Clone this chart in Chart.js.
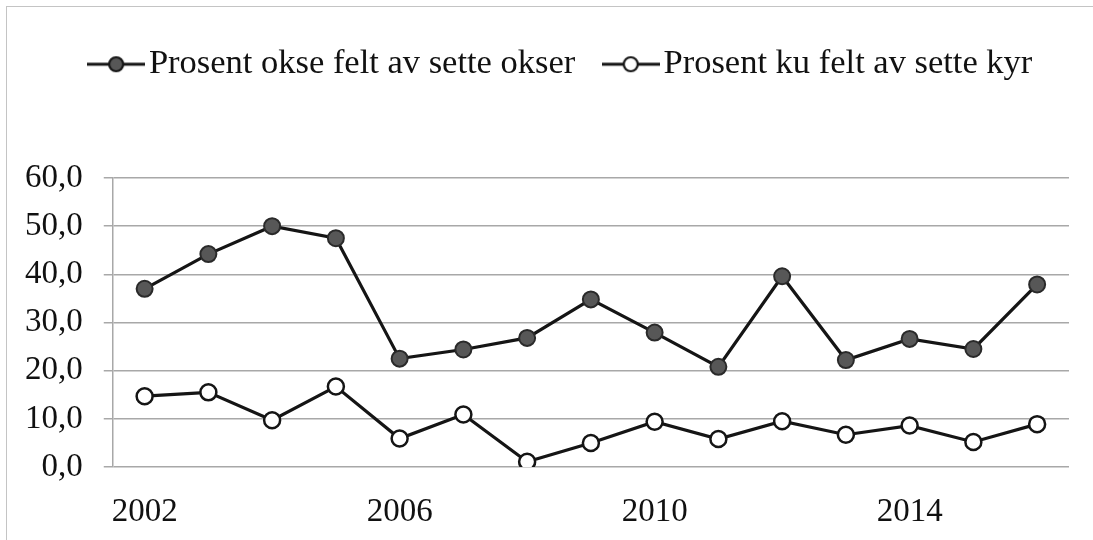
<!DOCTYPE html>
<html>
<head>
<meta charset="utf-8">
<script src="https://cdn.jsdelivr.net/npm/chart.js@4.4.1/dist/chart.umd.min.js"></script>
<style>
  html, body { margin: 0; padding: 0; background: #fff; }
  #wrap { position: relative; width: 1093px; height: 540px; }
  #frame { position: absolute; left: 6px; top: 6px; right: -2px; bottom: -2px;
           border-left: 1px solid #c4c4c4; border-top: 1px solid #c4c4c4; pointer-events: none; }
  canvas { display: block; }
</style>
</head>
<body>
<div id="wrap">
  <canvas id="chart" width="1093" height="540"></canvas>
  <div id="frame"></div>
</div>
<script>
const years = ["2002","2003","2004","2005","2006","2007","2008","2009","2010","2011","2012","2013","2014","2015","2016"];
const okse = [37.0, 44.2, 50.0, 47.5, 22.5, 24.4, 26.8, 34.8, 27.9, 20.8, 39.6, 22.2, 26.6, 24.5, 37.9];
const ku = [14.7, 15.5, 9.7, 16.7, 5.9, 10.9, 1.1, 5.0, 9.4, 5.8, 9.5, 6.7, 8.6, 5.2, 8.9];
const labelOkse = "Prosent okse felt av sette okser";
const labelKu = "Prosent ku felt av sette kyr";

const FONT = "'Liberation Serif', 'Times New Roman', serif";

// legend icon: line with the marker in the middle
function legendIcon(fill) {
  const c = document.createElement("canvas");
  c.width = 58; c.height = 20;
  const g = c.getContext("2d");
  g.strokeStyle = "#151515";
  g.lineWidth = 3;
  g.beginPath(); g.moveTo(0, 10); g.lineTo(58, 10); g.stroke();
  g.beginPath(); g.arc(29, 10, 7, 0, Math.PI * 2);
  g.fillStyle = fill; g.fill();
  g.lineWidth = 2.2; g.stroke();
  return c;
}

// legend: taller box, nudged right like the original
const legendSpace = {
  id: "legendSpace",
  beforeInit(chart) {
    const fit = chart.legend.fit;
    chart.legend.fit = function () {
      fit.call(this);
      this.height = 171;
    };
  },
  afterLayout(chart) {
    chart.legend.left += 30;
    chart.legend.right += 30;
  },
};

new Chart(document.getElementById("chart"), {
  type: "line",
  data: {
    labels: years,
    datasets: [
      {
        label: labelOkse,
        data: okse,
        borderColor: "#151515",
        borderWidth: 3.2,
        pointRadius: 8,
        pointBorderWidth: 2,
        pointBackgroundColor: "#575757",
        pointBorderColor: "#2a2a2a",
        tension: 0,
        legendIcon: legendIcon("#575757"),
      },
      {
        label: labelKu,
        data: ku,
        borderColor: "#151515",
        borderWidth: 3.2,
        pointRadius: 8,
        pointBorderWidth: 2.5,
        pointBackgroundColor: "#ffffff",
        pointBorderColor: "#151515",
        tension: 0,
        legendIcon: legendIcon("#ffffff"),
      },
    ],
  },
  options: {
    responsive: false,
    animation: false,
    layout: { padding: { left: 4, right: 24, top: 7, bottom: 3 } },
    plugins: {
      tooltip: { enabled: false },
      legend: {
        position: "top",
        labels: {
          usePointStyle: true,
          pointStyleWidth: 31,
          padding: 40,
          color: "#111",
          font: { family: FONT, size: 34.5 },
          generateLabels(chart) {
            return chart.data.datasets.map((ds, i) => ({
              text: ds.label,
              pointStyle: ds.legendIcon,
              fillStyle: ds.pointBackgroundColor,
              strokeStyle: ds.borderColor,
              lineWidth: 0,
              fontColor: "#111",
              datasetIndex: i,
              hidden: false,
            }));
          },
        },
      },
    },
    scales: {
      x: {
        type: "category",
        offset: true,
        grid: { display: false, drawTicks: false },
        border: { display: false },
        afterFit(scale) { scale.height = 70; },
        ticks: {
          autoSkip: false,
          maxRotation: 0,
          padding: 26,
          color: "#111",
          font: { family: FONT, size: 33 },
          callback(v, i) { return i % 4 === 0 ? years[i] : ""; },
        },
      },
      y: {
        min: 0,
        max: 60,
        grid: { color: "#a8a8a8", lineWidth: 1.5, tickLength: 9 },
        border: { color: "#a8a8a8", width: 1.5 },
        ticks: {
          stepSize: 10,
          padding: 21,
          color: "#111",
          font: { family: FONT, size: 33 },
          callback(v) { return v.toFixed(1).replace(".", ","); },
        },
      },
    },
  },
  plugins: [legendSpace],
});
</script>
</body>
</html>
